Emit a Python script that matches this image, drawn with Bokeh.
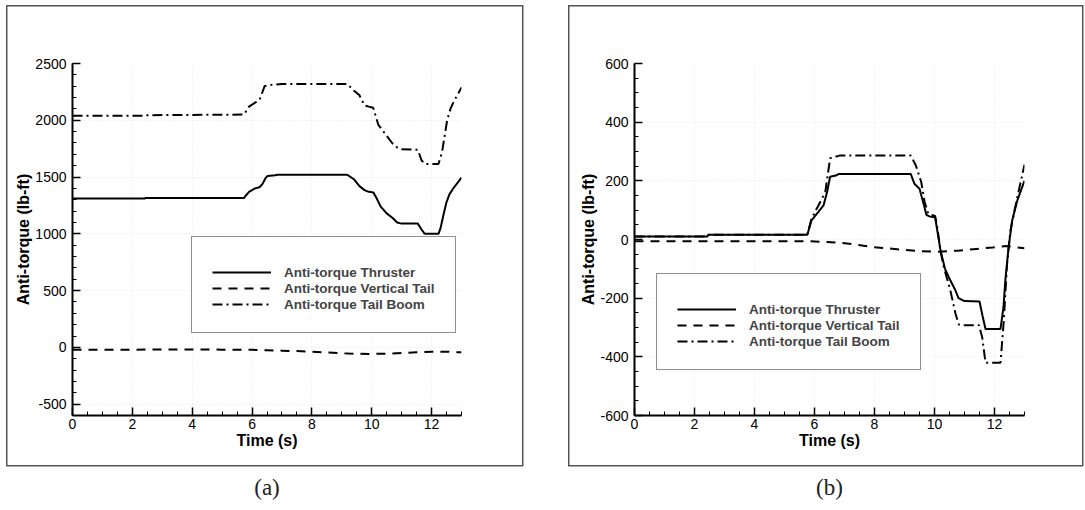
from bokeh.plotting import figure
from bokeh.models import (Range1d, SingleIntervalTicker, Legend, LegendItem,
                          Title, PrintfTickFormatter)
from bokeh.layouts import row
from bokeh.embed import file_html
from bokeh.resources import INLINE

# ---------------- data: panel (a) ----------------
thr_a_t = [0, 2.4, 2.45, 5.73, 5.8, 5.9, 6.1, 6.25, 6.35, 6.45, 6.52, 6.77, 6.85,
           9.18, 9.41, 9.59, 9.76, 9.9, 10.05, 10.15, 10.3, 10.5, 10.7, 10.85, 11.0,
           11.54, 11.66, 11.77, 12.23, 12.3, 12.4, 12.5, 12.6, 12.75, 12.9, 13.0]
thr_a_v = [1310, 1310, 1315, 1315, 1340, 1370, 1400, 1410, 1440, 1490, 1510, 1515, 1520,
           1520, 1480, 1420, 1385, 1370, 1365, 1320, 1240, 1180, 1140, 1100, 1090,
           1090, 1040, 1000, 1000, 1050, 1170, 1280, 1350, 1410, 1460, 1495]

vt_a_t = [0, 2, 4, 5, 6, 6.5, 7, 7.5, 8, 8.5, 9, 9.5, 10, 10.5, 11, 11.5, 12, 12.5, 13]
vt_a_v = [-20, -20, -18, -20, -22, -25, -29, -33, -38, -45, -52, -57, -58, -55, -50,
          -44, -38, -38, -44]

tb_a_t = [0, 2.4, 2.45, 5.73, 5.9, 6.13, 6.25, 6.42, 6.53, 6.77, 7.0, 9.18, 9.41, 9.59,
          9.76, 9.9, 10.05, 10.22, 10.45, 10.68, 10.85, 11.0, 11.54, 11.66, 11.77,
          12.23, 12.35, 12.46, 12.52, 12.63, 12.75, 12.9, 13.0]
tb_a_v = [2040, 2040, 2045, 2050, 2120, 2160, 2180, 2300, 2310, 2315, 2320, 2320, 2260,
          2220, 2130, 2120, 2110, 1960, 1880, 1800, 1760, 1745, 1740, 1650, 1615,
          1615, 1720, 1900, 2000, 2100, 2170, 2240, 2290]

# ---------------- data: panel (b) ----------------
thr_b_t = [0, 2.42, 2.47, 5.76, 5.9, 6.13, 6.3, 6.42, 6.52, 6.71, 6.8, 9.21, 9.33, 9.5,
           9.62, 9.73, 9.85, 10.02, 10.1, 10.2, 10.35, 10.53, 10.7, 10.8, 11.0, 11.5,
           11.6, 11.7, 12.2, 12.3, 12.36, 12.47, 12.59, 12.76, 12.98, 13.0]
thr_b_v = [10, 10, 16, 16, 65, 94, 116, 162, 214, 218, 223, 223, 190, 173,
           128, 84, 78, 76, 26, -37, -100, -140, -174, -200, -210, -211,
           -260, -305, -305, -230, -140, -26, 65, 133, 195, 200]

vt_b_t = [0, 2, 4, 5.78, 6.71, 7.3, 7.87, 8.45, 9.03, 9.5, 10.08, 10.78, 11.4, 11.94,
          12.4, 13.0]
vt_b_v = [-6, -6, -6, -6, -10, -16, -25, -30, -36, -40, -42, -38, -32, -27, -22, -30]

tb_b_t = [0, 2.42, 2.47, 5.76, 5.9, 6.13, 6.36, 6.52, 6.83, 9.21, 9.38, 9.56, 9.67,
          9.79, 10.02, 10.1, 10.2, 10.31, 10.53, 10.7, 10.81, 11.0, 11.48, 11.59, 11.7,
          12.2, 12.31, 12.42, 12.53, 12.76, 13.0]
tb_b_v = [10, 10, 16, 16, 71, 116, 162, 277, 286, 286, 252, 195, 128,
          88, 80, 37, -40, -94, -174, -253, -290, -292, -292, -333, -420,
          -420, -276, -82, 31, 144, 255]

legend_labels = ["Anti-torque Thruster", "Anti-torque Vertical Tail",
                 "Anti-torque Tail Boom"]
x_label = "Time (s)"
y_label = "Anti-torque (lb-ft)"

SANS = "Liberation Sans"
SERIF = "Liberation Serif"
DASH = "9 7"
DASHDOT = "10 4 2 4"
BOX = "#555555"


def box_styles(l, t, r, b):
    w, h = r - l, b - t
    g = "linear-gradient(%s, %s)" % (BOX, BOX)
    return {
        "background-color": "white",
        "background-image": ", ".join([g] * 4),
        "background-size": "%dpx 1.5px, %dpx 1.5px, 1.5px %dpx, 1.5px %dpx" % (w, w, h, h),
        "background-position": "%dpx %dpx, %dpx %dpx, %dpx %dpx, %dpx %dpx" % (
            l, t, l, b - 1, l, t, r - 1, t),
        "background-repeat": "no-repeat",
    }


def make_panel(width, frame_left, frame_right, y_lo, y_hi, y_major, y_minor,
               series, legend_loc, box, caption):
    p = figure(width=width, height=510, x_range=Range1d(0, 13),
               y_range=Range1d(y_lo, y_hi), output_backend="svg",
               toolbar_location=None,
               min_border_left=frame_left, min_border_right=width - frame_right,
               min_border_top=63, min_border_bottom=95,
               styles=box_styles(*box))
    p.outline_line_color = None
    p.background_fill_color = None
    p.border_fill_color = None

    xt = SingleIntervalTicker(interval=2, num_minor_ticks=4)
    yt = SingleIntervalTicker(interval=y_major, num_minor_ticks=y_minor)
    p.xaxis.ticker = xt
    p.yaxis.ticker = yt
    p.xgrid.ticker = xt
    p.ygrid.ticker = yt
    for g in (p.xgrid, p.ygrid):
        g.grid_line_color = "#e9e9e9"
        g.grid_line_dash = "1 2"
        g.grid_line_width = 1

    for ax in (p.xaxis, p.yaxis):
        ax.formatter = PrintfTickFormatter(format="%d")
        ax.axis_line_width = 2
        ax.axis_line_color = "black"
        ax.major_tick_in = 8
        ax.major_tick_out = 0
        ax.minor_tick_in = 4
        ax.minor_tick_out = 0
        ax.major_tick_line_width = 1.5
        ax.minor_tick_line_width = 1
        ax.major_tick_line_color = "black"
        ax.minor_tick_line_color = "black"
        ax.major_label_text_font = SANS
        ax.major_label_text_font_size = "14px"
        ax.major_label_text_color = "black"
        ax.axis_label_text_font = SANS
        ax.axis_label_text_font_style = "bold"
        ax.axis_label_text_font_size = "16px"
        ax.axis_label_text_color = "black"
        ax.axis_label_standoff = 0
    p.xaxis.major_label_standoff = 3
    p.yaxis.major_label_standoff = 6
    p.xaxis.axis_label = x_label
    p.yaxis.axis_label = y_label

    renderers = []
    for (t, v, dash) in series:
        r = p.line(t, v, line_color="black", line_width=2, line_dash=dash)
        renderers.append(r)

    items = [LegendItem(label=lab, renderers=[r])
             for lab, r in zip(legend_labels, renderers)]
    leg = Legend(items=items, location=legend_loc, margin=0, padding=20,
                 spacing=0, label_height=16, glyph_height=16, glyph_width=59,
                 label_standoff=13, label_text_font=SANS,
                 label_text_font_style="bold", label_text_font_size="13.5px",
                 border_line_color="#222222", border_line_width=1.2,
                 background_fill_color="white", background_fill_alpha=1,
                 title=" ", title_text_font_size="4px", title_standoff=2)
    p.add_layout(leg)

    # spacer between the axis panel and the caption
    p.add_layout(Title(text=" ", text_font_size="2px", standoff=10), "below")
    p.add_layout(Title(text=caption, align="center",
                       standoff=14, text_font=SERIF, text_font_size="23px",
                       text_font_style="normal", text_color="#222222"), "below")
    return p


pa = make_panel(545, 72, 461, -600, 2500, 500, 5,
                [(thr_a_t, thr_a_v, "solid"), (vt_a_t, vt_a_v, DASH),
                 (tb_a_t, tb_a_v, DASHDOT)],
                (119, 82), (6, 5, 523, 466), "(a)")
pb = make_panel(540, 89, 479, -600, 600, 200, 4,
                [(thr_b_t, thr_b_v, "solid"), (vt_b_t, vt_b_v, DASH),
                 (tb_b_t, tb_b_v, DASHDOT)],
                (22, 45), (23, 5, 538, 466), "(b)")

layout = row(pa, pb)
open("out.html", "w").write(file_html(layout, INLINE))
